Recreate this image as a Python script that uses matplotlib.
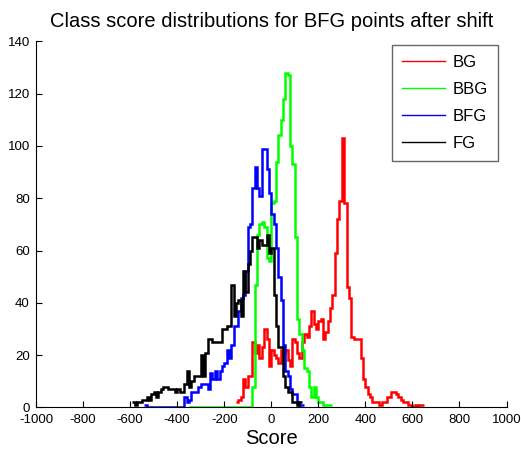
import numpy as np
import matplotlib
matplotlib.use('Agg')
import matplotlib.pyplot as plt

plt.rcParams['font.family'] = ['Liberation Sans', 'DejaVu Sans']
plt.rcParams['axes.unicode_minus'] = False

# Histogram counts per class, bins of width 10 starting at the given score
BIN_WIDTH = 10

bg_start = -150
bg_counts = [2, 3, 4, 11, 8, 12, 12, 25, 21, 24, 19, 23, 30, 26, 16, 22, 20, 19, 17, 22,
             21, 22, 18, 16, 26, 25, 21, 19, 25, 28, 27, 31, 37, 32, 30, 33, 34, 26, 29, 33,
             38, 43, 59, 72, 79, 103, 78, 46, 42, 27, 26, 26, 26, 19, 11, 8, 5, 4, 2, 2,
             2, 1, 2, 2, 4, 4, 6, 6, 5, 4, 3, 2, 2, 1, 1, 0, 1, 0, 1, 1]

bbg_start = -350
bbg_counts = [0] * 27 + [8, 47, 66, 70, 71, 69, 57, 56, 78, 79, 94, 104, 110, 118, 128, 127,
                         100, 93, 65, 34, 28, 22, 15, 14, 8, 4, 8, 4, 2, 2, 1, 1, 1, 1]

bfg_start = -540
bfg_counts = [1] + [0] * 16 + [4, 2, 3, 6, 6, 6, 8, 9, 9, 9, 7, 13, 11, 14, 11, 14, 16, 17,
                               22, 19, 24, 31, 31, 37, 42, 43, 52, 69, 70, 84, 92, 84, 81,
                               99, 99, 91, 82, 74, 70, 61, 50, 41, 24, 14, 12, 7, 5, 5, 2, 1, 1]

fg_start = -590
fg_counts = [2, 1, 2, 2, 3, 3, 4, 3, 5, 6, 4, 6, 7, 8, 8, 7, 7, 7, 6, 7, 6, 6, 9, 14, 8,
             10, 12, 12, 12, 20, 12, 21, 26, 26, 25, 25, 25, 25, 30, 30, 31, 31, 47, 35, 40,
             41, 35, 52, 44, 55, 60, 65, 65, 61, 64, 62, 62, 66, 59, 61, 43, 31, 23, 23, 12,
             8, 6, 6, 2, 2, 1, 2]

classes = ['BG', 'BBG', 'BFG', 'FG']
colors = ['#ff0000', '#00ff00', '#0000ff', '#000000']
starts = [bg_start, bbg_start, bfg_start, fg_start]
counts = [bg_counts, bbg_counts, bfg_counts, fg_counts]

fig = plt.figure(figsize=(5.21, 4.55), dpi=100)
ax = fig.add_axes([0.0691, 0.1044, 0.9031, 0.8048])

for name, col, start, cnt in zip(classes, colors, starts, counts):
    edges = start + BIN_WIDTH * np.arange(len(cnt) + 1)
    ax.stairs(cnt, edges, baseline=None, color=col, linewidth=1.8, label=name)

ax.set_xlim(-1000, 1000)
ax.set_ylim(0, 140)
ax.set_xticks(np.arange(-1000, 1001, 200))
ax.set_yticks(np.arange(0, 141, 20))
ax.tick_params(direction='in', length=4, width=0.8, labelsize=9.5, pad=4.5)
ax.spines['top'].set_visible(False)
ax.spines['right'].set_visible(False)

ax.set_title('Class score distributions for BFG points after shift', fontsize=14.5, pad=10)
ax.set_xlabel('Score', fontsize=14.5, labelpad=2)

leg = ax.legend(loc='upper right', bbox_to_anchor=(498 / 521, 1 - 45 / 455),
                bbox_transform=fig.transFigure, fontsize=12, frameon=True, fancybox=False,
                handlelength=2.6, handletextpad=0.45, labelspacing=0.72, borderpad=0.6,
                borderaxespad=0)
leg.get_frame().set_edgecolor('#404040')
leg.get_frame().set_linewidth(1.0)
for line in leg.get_lines():
    line.set_linewidth(1.0)

fig.savefig('out.png', dpi=100)
